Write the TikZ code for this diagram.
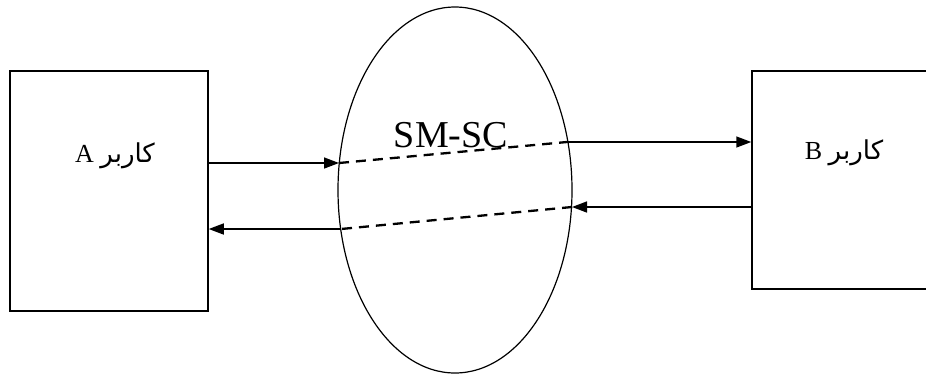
\documentclass[tikz,border=0pt]{standalone}
\usepackage{fontspec}
\setmainfont{Liberation Serif}
\newfontfamily\arabicfont[Script=Arabic]{DejaVu Sans}
\TeXXeTstate=1
\usetikzlibrary{arrows.meta,shapes.geometric}
\begin{document}
\begin{tikzpicture}[x=1pt,y=-1pt,
  userbox/.style={draw,line width=1.5pt,rectangle,inner sep=0pt},
  arr/.style={line width=1.5pt,-{Triangle[length=15pt,width=11pt]}},
  dashline/.style={line width=2.3pt,dash pattern=on 10pt off 7pt},
  lbl/.style={font=\fontsize{26}{30}\selectfont,anchor=base}]
\useasboundingbox (0,0) rectangle (926,376);
\clip (0,0) rectangle (926,376);
\node[userbox,minimum width=198pt,minimum height=240pt] (A) at (109,191) {};
\node[userbox,minimum width=250pt,minimum height=218pt] (B) at (877,180) {};
\node[draw,line width=1.2pt,ellipse,minimum width=234pt,minimum height=366pt,inner sep=0pt] (E) at (455,190) {};
\node[font=\fontsize{38}{42}\selectfont,anchor=base] (T) at (451,147) {SM-SC};
\node[lbl] (LA) at (115,162) {\beginR{\arabicfont کاربر} A\endR};
\node[lbl] (LB) at (844,159) {\beginR{\arabicfont کاربر} B\endR};
\coordinate (e1) at (339,163);
\coordinate (e2) at (567,142);
\coordinate (e3) at (572,207);
\coordinate (e4) at (341,229);
\draw[arr] (A.east |- e1) -- (e1);
\draw[dashline] (e1) -- (e2);
\draw[arr] (e2) -- (B.west |- e2);
\draw[arr] (B.west |- e3) -- (e3);
\draw[dashline] (e3) -- (e4);
\draw[arr] (e4) -- (A.east |- e4);
\end{tikzpicture}
\end{document}
